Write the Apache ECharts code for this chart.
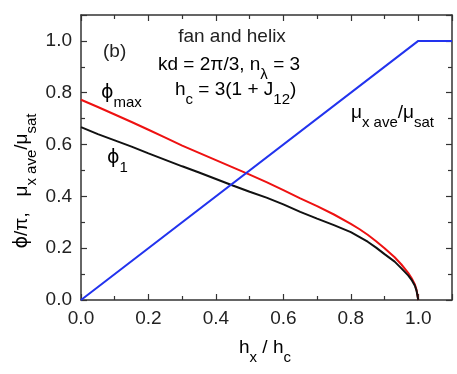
<!DOCTYPE html>
<html>
<head>
<meta charset="utf-8">
<script src="https://cdn.jsdelivr.net/npm/echarts@6/dist/echarts.min.js"></script>
<style>
  html, body { margin: 0; padding: 0; background: #fff; }
  #chart { width: 457px; height: 374px; }
</style>
</head>
<body>
<div id="chart"></div>
<script>
  // h_x / h_c sample points
  var hx = [0, 0.05, 0.1, 0.15, 0.2, 0.25, 0.3, 0.35, 0.4, 0.45, 0.5, 0.55, 0.6, 0.65, 0.7, 0.75, 0.8, 0.825, 0.85, 0.875, 0.9, 0.93, 0.95, 0.97, 0.98, 0.99, 0.995, 1.0];
  // phi_1 / pi (black)
  var phi1 = [0.667, 0.640, 0.616, 0.592, 0.566, 0.541, 0.516, 0.492, 0.467, 0.442, 0.418, 0.395, 0.369, 0.340, 0.314, 0.289, 0.262, 0.244, 0.225, 0.202, 0.177, 0.148, 0.122, 0.095, 0.078, 0.055, 0.035, 0];
  // phi_max / pi (red)
  var phiMax = [0.773, 0.745, 0.716, 0.687, 0.657, 0.627, 0.596, 0.568, 0.540, 0.512, 0.484, 0.455, 0.424, 0.392, 0.362, 0.330, 0.294, 0.274, 0.252, 0.227, 0.200, 0.165, 0.137, 0.105, 0.085, 0.060, 0.038, 0];
  // mu_x ave / mu_sat (blue)
  var muX = [0, 1.0, 1.1];
  var muY = [0, 1.0, 1.0];

  var font = 'Liberation Sans, Arial, sans-serif';
  var txt = '#222';

  function pairs(xs, ys) {
    return xs.map(function (x, i) { return [x, ys[i]]; });
  }

  function subRich(color, size) {
    return {
      m: {fontSize: 19, fontFamily: font, color: color, lineHeight: 21},
      g: {fontSize: 19, fontFamily: 'DejaVu Sans, sans-serif', color: color, lineHeight: 21},
      s: {fontSize: size || 15, fontFamily: font, color: color, lineHeight: 15, padding: [20, 0, 0, 0]}
    };
  }

  function axisCommon(pos, showLabel) {
    return {
      type: 'value',
      position: pos,
      min: 0,
      max: 1.1,
      interval: 0.2,
      axisLine: {show: true, onZero: false, lineStyle: {color: '#333', width: 1.5}},
      axisTick: {show: true, inside: true, length: 6, lineStyle: {color: '#333', width: 1.2}},
      minorTick: {show: true, splitNumber: 2, length: 4, lineStyle: {color: '#333', width: 1.2}},
      splitLine: {show: false},
      minorSplitLine: {show: false},
      axisLabel: {
        show: showLabel,
        showMaxLabel: false,
        fontSize: 19,
        fontFamily: font,
        color: txt,
        margin: 9,
        formatter: function (v) { return v.toFixed(1); }
      }
    };
  }

  var option = {
    animation: false,
    grid: {left: 81, right: 5, top: 15, bottom: 74},
    xAxis: [axisCommon('bottom', true), axisCommon('top', false)],
    yAxis: [axisCommon('left', true), axisCommon('right', false)],
    series: [
      {
        type: 'line', data: pairs(hx, phi1), showSymbol: false,
        lineStyle: {color: '#111', width: 2}, z: 3
      },
      {
        type: 'line', data: pairs(hx, phiMax), showSymbol: false,
        lineStyle: {color: '#ee1111', width: 2}, z: 2
      },
      {
        type: 'line', data: pairs(muX, muY), showSymbol: false,
        lineStyle: {color: '#2233ee', width: 2}, z: 4
      }
    ],
    graphic: [
      {type: 'text', x: 103, y: 52, style: {text: '(b)', fontSize: 19, fontFamily: font, fill: txt, verticalAlign: 'middle'}},
      {type: 'text', x: 232, y: 37, style: {text: 'fan and helix', fontSize: 19, fontFamily: font, fill: txt, align: 'center', verticalAlign: 'middle'}},
      {type: 'text', x: 158, y: 65, style: {text: '{m|kd = 2π/3, n}{s|λ}{m| = 3}', rich: subRich(txt), verticalAlign: 'middle'}},
      {type: 'text', x: 175, y: 90, style: {text: '{m|h}{s|c}{m| = 3(1 + J}{s|12}{m|)}', rich: subRich(txt), verticalAlign: 'middle'}},
      {type: 'text', x: 101, y: 93, style: {text: '{g|ϕ}{s|max}', rich: subRich('#ee2233', 15), verticalAlign: 'middle'}},
      {type: 'text', x: 107, y: 158, style: {text: '{g|ϕ}{s|1}', rich: subRich(txt, 15), verticalAlign: 'middle'}},
      {type: 'text', x: 351, y: 113, style: {text: '{m|μ}{s|x ave}{m|/μ}{s|sat}', rich: subRich('#3344ee', 15), verticalAlign: 'middle'}},
      {type: 'text', x: 265, y: 348, style: {text: '{m|h}{s|x}{m| / h}{s|c}', rich: subRich(txt, 15), align: 'center', verticalAlign: 'middle'}},
      {type: 'text', x: 22, y: 181, rotation: Math.PI / 2, style: {text: '{g|ϕ}{m|/π,   μ}{s|x ave}{m|/μ}{s|sat}', rich: subRich(txt, 15), align: 'center', verticalAlign: 'middle'}}
    ]
  };

  var chart = echarts.init(document.getElementById('chart'));
  chart.setOption(option);
</script>
</body>
</html>
